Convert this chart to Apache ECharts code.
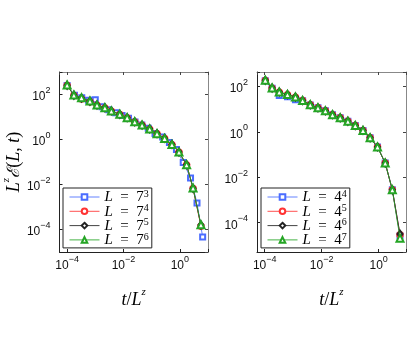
<!DOCTYPE html>
<html>
<head>
<meta charset="utf-8">
<script src="https://cdn.jsdelivr.net/npm/echarts@6/dist/echarts.min.js"></script>
<style>
  html, body { margin: 0; padding: 0; background: #fff; }
  #chart { width: 415px; height: 338px; }
</style>
</head>
<body>
<div id="chart"></div>
<script>
// values: t/L^z on x, L^z E(L,t) on y
// left panel, L = 7^n
const tLeft = [1.0e-4, 1.74e-4, 3.24e-4, 6.46e-4, 1.15e-3, 2.19e-3, 3.72e-3, 7.41e-3, 0.0135, 0.0251,
  0.0457, 0.0851, 0.155, 0.288, 0.525, 0.933, 1.74, 2.95, 5.62]
const tLeft73 = [1.0e-4, 1.82e-4, 3.31e-4, 5.75e-4, 1.0e-3, 1.74e-3, 3.02e-3, 5.25e-3, 8.91e-3, 0.0151,
  0.0257, 0.0447, 0.0759, 0.132, 0.245, 0.427, 0.759, 1.32, 2.40, 4.07, 6.46]
const eLeft73 = [251, 93, 71, 55, 59, 28.2, 20.9, 15.5, 11.7, 8.7, 6.0, 4.37, 3.16, 1.86, 1.29, 0.741,
  0.355, 0.0955, 0.0195, 0.00151, 4.68e-5]
const eLeft74 = [251, 91, 63, 48, 33, 25, 18.2, 12.9, 9.1, 6.0, 4.27, 2.88, 1.78, 1.10, 0.589, 0.269,
  0.0741, 0.0066, 1.38e-4]
const eLeft75 = [257, 93, 69, 50, 34, 25.7, 18.6, 13.2, 9.33, 6.17, 4.37, 2.95, 1.82, 1.12, 0.603, 0.275,
  0.0759, 0.00676, 1.58e-4]
const eLeft76 = [263, 95.5, 72.4, 51.3, 33.9, 25.7, 18.6, 13.2, 9.33, 6.17, 4.37, 2.95, 1.82, 1.12, 0.603,
  0.275, 0.0759, 0.00692, 1.62e-4]

// right panel, L = 4^n
const tRight = [1.05e-4, 1.82e-4, 3.24e-4, 6.31e-4, 1.20e-3, 2.14e-3, 3.98e-3, 7.41e-3, 0.0135, 0.0240,
  0.0447, 0.0832, 0.151, 0.282, 0.501, 0.912, 1.70, 3.02, 5.62]
const eRight44 = [182, 83, 39.8, 35.5, 26.3, 23.4, 15.5, 11.5, 8.51, 5.75, 4.17, 2.95, 1.91, 1.17, 0.550,
  0.219, 0.0427, 0.00282, 2.63e-5]
const eRight45 = [186, 85, 56, 44, 34, 24.0, 15.8, 11.5, 8.51, 5.75, 4.17, 2.95, 1.91, 1.17, 0.550,
  0.219, 0.0427, 0.00282, 2.95e-5]
const eRight46 = [188, 86, 57, 44.7, 34.7, 24.0, 15.8, 11.5, 8.51, 5.75, 4.17, 2.95, 1.91, 1.17, 0.550,
  0.219, 0.0427, 0.00282, 3.16e-5]
const eRight47 = [191, 87, 57.5, 44.7, 34.7, 24.0, 15.8, 11.5, 8.51, 5.75, 4.17, 2.95, 1.91, 1.17, 0.550,
  0.219, 0.0427, 0.00282, 2.09e-5]

const namesLeft = ['L = 7^3', 'L = 7^4', 'L = 7^5', 'L = 7^6']
const namesRight = ['L = 4^4', 'L = 4^5', 'L = 4^6', 'L = 4^7']

// tick labels (decade exponents)
const xTickExp = [-4, -2, 0]
const yTickExp = [-4, -2, 0, 2]

const colors = ['#4a6cff', '#ff3333', '#222222', '#25a525']
const symbols = ['emptyRect', 'emptyCircle', 'emptyDiamond', 'emptyTriangle']
const symbolSizes = [5, 5.5, [5, 7], 7]

const pair = (xs, ys) => xs.map((x, i) => [x, ys[i]])

const powLabel = (ticks) => (v) => {
  const e = Math.round(Math.log10(v) * 1000) / 1000
  if (!ticks.includes(e)) return ''
  return '{b|10}{s|' + String(e).replace('-', '\u2212') + '}'
}
const tickRich = {
  b: { fontSize: 12, fontFamily: 'Liberation Sans', color: '#111', lineHeight: 17, verticalAlign: 'bottom' },
  s: { fontSize: 9, fontFamily: 'Liberation Sans', color: '#111', lineHeight: 9, verticalAlign: 'top' }
}
const mathRich = {
  i: { fontSize: 18, fontFamily: 'Liberation Serif', fontStyle: 'italic', color: '#000', lineHeight: 22, verticalAlign: 'bottom' },
  n: { fontSize: 18, fontFamily: 'Liberation Serif', color: '#000', lineHeight: 22, verticalAlign: 'bottom' },
  e: { fontSize: 17, fontFamily: 'DejaVu Serif', fontStyle: 'italic', color: '#000', lineHeight: 22, verticalAlign: 'bottom' },
  s: { fontSize: 11, fontFamily: 'Liberation Serif', fontStyle: 'italic', color: '#000', lineHeight: 11, verticalAlign: 'top' }
}
const legendRich = {
  i: { fontSize: 15, fontFamily: 'Liberation Serif', fontStyle: 'italic', color: '#000', lineHeight: 16, verticalAlign: 'bottom' },
  n: { fontSize: 15, fontFamily: 'Liberation Serif', color: '#000', lineHeight: 16, verticalAlign: 'bottom' },
  s: { fontSize: 10, fontFamily: 'Liberation Serif', color: '#000', lineHeight: 6, verticalAlign: 'top' }
}
const legendText = (name) => {
  const [base, p] = name.replace('L = ', '').split('^')
  return '{i|L}{n|\u2002=\u2002' + base + '}{s|' + p + '}'
}

const grids = [
  { left: 59, top: 72, width: 149, height: 180 },
  { left: 257, top: 72, width: 149, height: 180 }
]
const xRange = [[5.37e-5, 10], [5.37e-5, 9.12]]
const yRange = [[1e-5, 1e3], [5.13e-6, 437]]

const xAxes = []
const yAxes = []
grids.forEach((g, gi) => {
  xAxes.push({
    type: 'log', logBase: 100, gridIndex: gi, min: xRange[gi][0], max: xRange[gi][1], splitNumber: 5,
    name: '{i|t}{n|/}{i|L}{s|z}',
    nameLocation: 'middle', nameGap: 35,
    nameTextStyle: { rich: mathRich },
    axisLine: { lineStyle: { color: '#222', width: 1 } },
    axisTick: { inside: true, length: 3, lineStyle: { color: '#222' } },
    axisLabel: { formatter: powLabel(xTickExp), rich: tickRich, margin: 3 },
    splitLine: { show: false }
  })
  xAxes.push({
    type: 'log', logBase: 100, gridIndex: gi, position: 'top', min: xRange[gi][0], max: xRange[gi][1], splitNumber: 5,
    axisLine: { lineStyle: { color: '#888', width: 1 } },
    axisTick: { inside: true, length: 3, lineStyle: { color: '#444' } },
    axisLabel: { show: false },
    splitLine: { show: false }
  })
  yAxes.push({
    type: 'log', logBase: 100, gridIndex: gi, min: yRange[gi][0], max: yRange[gi][1], splitNumber: 5,
    name: gi === 0 ? '{i|L}{s|z}{e|\u2130}{n|(}{i|L}{n|, }{i|t}{n|)}' : '',
    nameLocation: 'middle', nameGap: 36,
    nameTextStyle: { rich: mathRich },
    axisLine: { lineStyle: { color: '#222', width: 1 } },
    axisTick: { inside: true, length: 3, lineStyle: { color: '#222' } },
    axisLabel: { formatter: powLabel(yTickExp), rich: tickRich, margin: 9 },
    splitLine: { show: false }
  })
  yAxes.push({
    type: 'log', logBase: 100, gridIndex: gi, position: 'right', min: yRange[gi][0], max: yRange[gi][1], splitNumber: 5,
    axisLine: { lineStyle: { color: '#888', width: 1 } },
    axisTick: { inside: true, length: 3, lineStyle: { color: '#444' } },
    axisLabel: { show: false },
    splitLine: { show: false }
  })
})

const mk = (name, data, k, gi) => ({
  name, type: 'line', data, xAxisIndex: gi * 2, yAxisIndex: gi * 2,
  symbol: symbols[k], symbolSize: symbolSizes[k],
  itemStyle: { color: colors[k], borderWidth: 1 },
  lineStyle: { color: colors[k], width: 1, opacity: 0.85 },
  z: 2 + k
})

const series = [
  mk(namesLeft[0], pair(tLeft73, eLeft73), 0, 0),
  mk(namesLeft[1], pair(tLeft, eLeft74), 1, 0),
  mk(namesLeft[2], pair(tLeft, eLeft75), 2, 0),
  mk(namesLeft[3], pair(tLeft, eLeft76), 3, 0),
  mk(namesRight[0], pair(tRight, eRight44), 0, 1),
  mk(namesRight[1], pair(tRight, eRight45), 1, 1),
  mk(namesRight[2], pair(tRight, eRight46), 2, 1),
  mk(namesRight[3], pair(tRight, eRight47), 3, 1)
]

const legendBase = {
  orient: 'vertical', selectedMode: false,
  itemWidth: 30, itemHeight: 7, itemGap: -1.7,
  padding: [1, 3, 0, 6],
  backgroundColor: '#fff', borderColor: '#222', borderWidth: 1, borderRadius: 0,
  itemStyle: { borderWidth: 1 },
  lineStyle: { width: 1 },
  formatter: legendText,
  textStyle: { rich: legendRich }
}

const chart = echarts.init(document.getElementById('chart'), null, { renderer: 'canvas' })
chart.setOption({
  animation: false,
  backgroundColor: '#fff',
  grid: grids,
  xAxis: xAxes,
  yAxis: yAxes,
  legend: [
    Object.assign({}, legendBase, { data: namesLeft, left: 63, top: 188 }),
    Object.assign({}, legendBase, { data: namesRight, left: 261, top: 188 })
  ],
  series
})
</script>
</body>
</html>
